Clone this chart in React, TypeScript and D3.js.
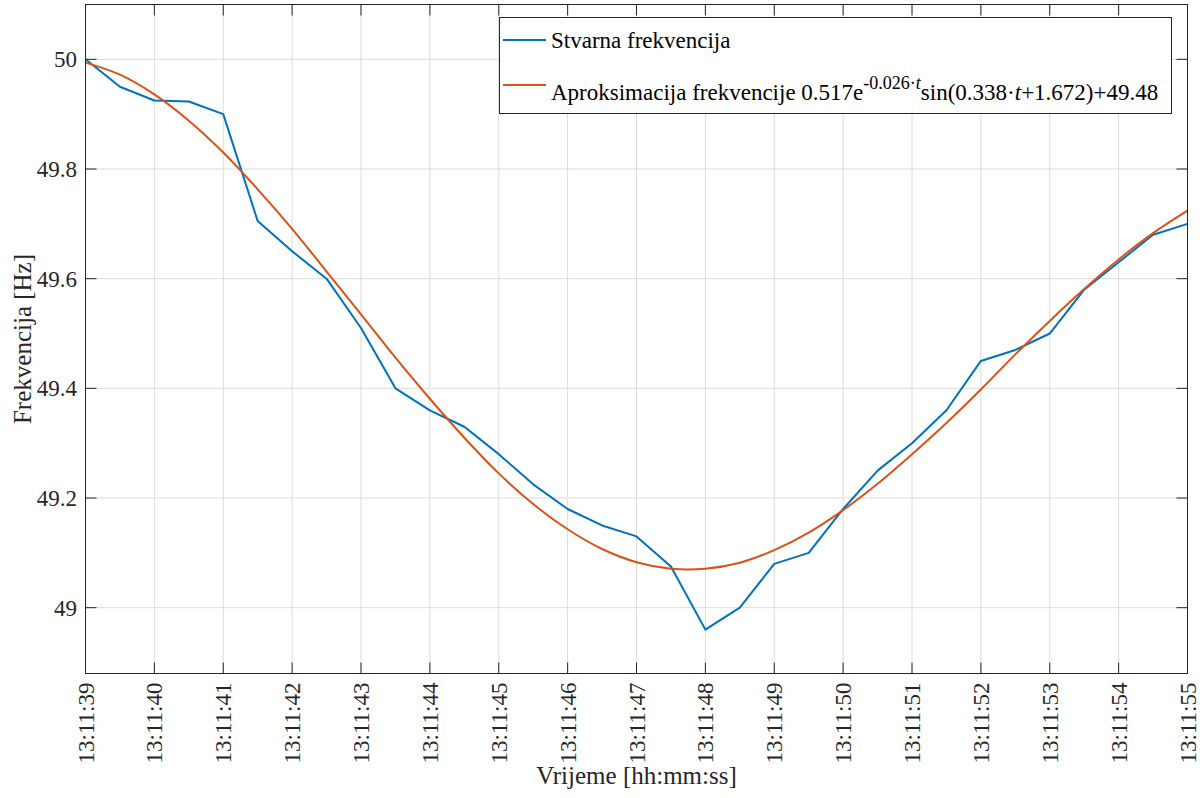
import React from "react";
import * as d3 from "d3";

const timeLabels = ["13:11:39","13:11:40","13:11:41","13:11:42","13:11:43","13:11:44","13:11:45","13:11:46","13:11:47","13:11:48","13:11:49","13:11:50","13:11:51","13:11:52","13:11:53","13:11:54","13:11:55"];
const tickSeconds = [0,1,2,3,4,5,6,7,8,9,10,11,12,13,14,15,16];
const yTicks = [49, 49.2, 49.4, 49.6, 49.8, 50];

const sampleSeconds = [0,0.5,1,1.5,2,2.5,3,3.5,4,4.5,5,5.5,6,6.5,7,7.5,8,8.5,9,9.5,10,10.5,11,11.5,12,12.5,13,13.5,14,14.5,15,15.5,16];
const measured = [50.0,49.95,49.925,49.923,49.90,49.705,49.65,49.60,49.51,49.40,49.36,49.33,49.28,49.225,49.18,49.15,49.13,49.075,48.96,49.00,49.08,49.10,49.18,49.25,49.30,49.36,49.45,49.47,49.50,49.58,49.63,49.68,49.70];
const approx = [49.994,49.972,49.936,49.888,49.830,49.763,49.691,49.613,49.535,49.456,49.381,49.310,49.245,49.189,49.143,49.107,49.083,49.071,49.071,49.082,49.105,49.137,49.178,49.226,49.280,49.337,49.398,49.462,49.523,49.581,49.635,49.683,49.724];

const W = 1203, H = 798;
const L = 85.5, R = 1187.5, T = 4.5, B = 673.5;
const FONT = "Liberation Serif";
const AX = "#262626";
const BLUE = "#0072BD";
const ORANGE = "#D95319";

export default function App() {
  const x = d3.scaleLinear().domain([0, 16]).range([L, R]);
  const y = d3.scaleLinear().domain([48.88, 50.1]).range([B, T]);
  const pts1 = sampleSeconds.map((s, i) => [s, measured[i]] as [number, number]);
  const pts2 = sampleSeconds.map((s, i) => [s, approx[i]] as [number, number]);
  const lineLin = d3.line<[number, number]>().x(d => x(d[0])).y(d => y(d[1]));
  const lineSmooth = d3.line<[number, number]>().x(d => x(d[0])).y(d => y(d[1])).curve(d3.curveCatmullRom);
  const tl = 11;
  return (
    <svg width={W} height={H} style={{ position: "absolute", left: 0, top: 0, background: "#fff", fontFamily: FONT }}>
      <rect x={0} y={0} width={W} height={H} fill="#fff" />
      {tickSeconds.map(s => (
        <line key={"gx" + s} x1={x(s)} x2={x(s)} y1={T} y2={B} stroke="#dcdcdc" strokeWidth={1} />
      ))}
      {yTicks.map(v => (
        <line key={"gy" + v} x1={L} x2={R} y1={y(v)} y2={y(v)} stroke="#dcdcdc" strokeWidth={1} />
      ))}
      <path d={lineLin(pts1) || ""} fill="none" stroke={BLUE} strokeWidth={2} strokeLinejoin="round" />
      <path d={lineSmooth(pts2) || ""} fill="none" stroke={ORANGE} strokeWidth={2} />
      {tickSeconds.map(s => (
        <g key={"tx" + s}>
          <line x1={x(s)} x2={x(s)} y1={B} y2={B - tl} stroke={AX} strokeWidth={1} />
          <line x1={x(s)} x2={x(s)} y1={T} y2={T + tl} stroke={AX} strokeWidth={1} />
        </g>
      ))}
      {yTicks.map(v => (
        <g key={"ty" + v}>
          <line x1={L} x2={L + tl} y1={y(v)} y2={y(v)} stroke={AX} strokeWidth={1} />
          <line x1={R} x2={R - tl} y1={y(v)} y2={y(v)} stroke={AX} strokeWidth={1} />
        </g>
      ))}
      <rect x={L} y={T} width={R - L} height={B - T} fill="none" stroke={AX} strokeWidth={1} />
      {tickSeconds.map((s, i) => (
        <text key={"lx" + s} transform={`translate(${x(s) + 8},${B + 9}) rotate(-90)`} textAnchor="end" fontSize={23} fill={AX}>
          {timeLabels[i]}
        </text>
      ))}
      {yTicks.map(v => (
        <text key={"ly" + v} x={77} y={y(v) + 8} textAnchor="end" fontSize={23} fill={AX}>
          {d3.format("")(v)}
        </text>
      ))}
      <text x={(L + R) / 2} y={784} textAnchor="middle" fontSize={25} fill={AX}>Vrijeme [hh:mm:ss]</text>
      <text transform={`translate(31,${(T + B) / 2}) rotate(-90)`} textAnchor="middle" fontSize={25} fill={AX}>Frekvencija [Hz]</text>
      <rect x={499.5} y={17.5} width={672} height={96} fill="#fff" stroke={AX} strokeWidth={1} />
      <line x1={503} x2={546} y1={40} y2={40} stroke={BLUE} strokeWidth={2} />
      <line x1={503} x2={546} y1={85} y2={85} stroke={ORANGE} strokeWidth={2} />
      <text x={551} y={48} fontSize={23} fill="#000">Stvarna frekvencija</text>
      <text x={551} y={100} fontSize={23} fill="#000">
        Aproksimacija frekvencije 0.517e
        <tspan dy={-11} fontSize={18}>-0.026·<tspan fontStyle="italic">t</tspan></tspan>
        <tspan dy={11}>sin(0.338·<tspan fontStyle="italic">t</tspan>+1.672)+49.48</tspan>
      </text>
    </svg>
  );
}
